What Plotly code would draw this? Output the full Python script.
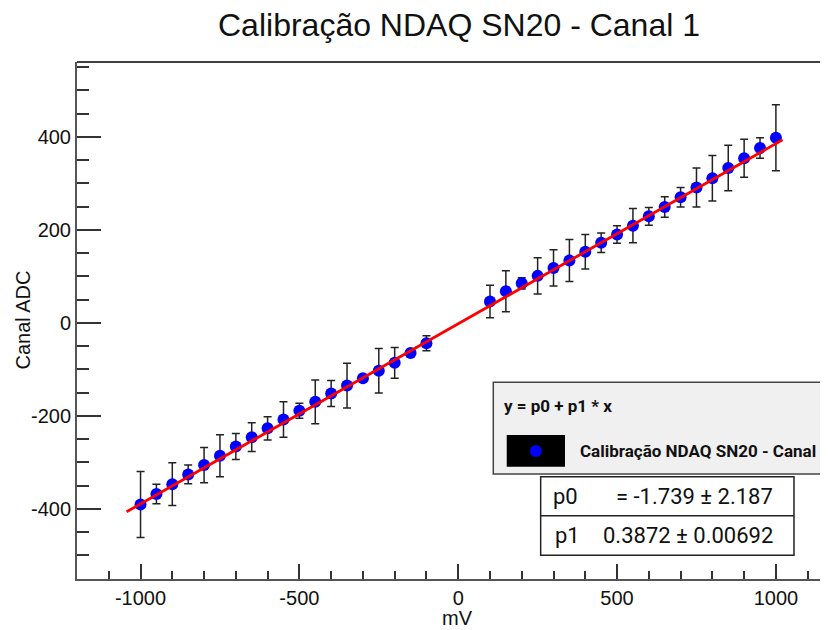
import plotly.graph_objects as go

# calibration points
mv = [-1000, -950, -900, -850, -800, -750, -700, -650, -600, -550,
      -500, -450, -400, -350, -300, -250, -200, -150, -100,
      100, 150, 200, 250, 300, 350, 400, 450, 500, 550,
      600, 650, 700, 750, 800, 850, 900, 950, 1000]
adc = [-391, -368, -347, -326, -306, -286, -266, -246, -227, -208,
       -189, -170, -152, -135, -119, -103, -86, -65, -44,
       46, 68, 85, 101, 118, 134, 153, 172, 190, 209,
       229, 249, 270, 291, 311, 333, 354, 376, 398]
adc_err = [71, 21, 46, 20, 38, 45, 28, 31, 25, 38,
           16, 47, 28, 48, 4, 48, 33, 4, 16,
           35, 44, 12, 39, 39, 45, 37, 21, 19, 37,
           19, 22, 21, 42, 49, 49, 41, 22, 71]

# fitted line end points
fit_x = [-1044, 1021]
fit_y = [-406.5, 393.6]

x_ticks = [-1000, -500, 0, 500, 1000]
x_labels = ["-1000", "-500", "0", "500", "1000"]
y_ticks = [-400, -200, 0, 200, 400]
y_labels = ["-400", "-200", "0", "200", "400"]

title = "Calibração NDAQ SN20 - Canal 1"
p0_text = "= -1.739 ± 2.187"
p1_text = "0.3872 ± 0.00692"

fig = go.Figure()

fig.add_trace(
    go.Scatter(
        x=mv,
        y=adc,
        mode="markers",
        marker=dict(color="#0000ff", size=12),
        error_y=dict(type="data", array=adc_err, color="#222222",
                     thickness=1.5, width=4),
        showlegend=False,
    )
)

fig.add_trace(
    go.Scatter(
        x=fit_x,
        y=fit_y,
        mode="lines",
        line=dict(color="#ff0000", width=2.8),
        showlegend=False,
    )
)

axis_font = dict(family="Liberation Sans", size=20, color="#111111")

fig.update_xaxes(
    range=[-1200, 1164],
    tickvals=x_ticks,
    ticktext=x_labels,
    ticks="inside",
    ticklen=15,
    tickwidth=1.5,
    tickcolor="#333333",
    tickfont=axis_font,
    showline=True,
    linecolor="#555555",
    linewidth=2,
    showgrid=False,
    zeroline=False,
    minor=dict(ticks="inside", ticklen=8, tickwidth=1.5, tickcolor="#333333",
               dtick=100, tick0=0, showgrid=False),
)

fig.update_yaxes(
    range=[-551, 561],
    tickvals=y_ticks,
    ticktext=y_labels,
    ticks="inside",
    ticklen=24,
    tickwidth=1.5,
    tickcolor="#333333",
    tickfont=axis_font,
    showline=True,
    linecolor="#555555",
    linewidth=2,
    showgrid=False,
    zeroline=False,
    minor=dict(ticks="inside", ticklen=12, tickwidth=1.5, tickcolor="#333333",
               dtick=50, tick0=0, showgrid=False),
)

shapes = [
    # top frame line
    dict(type="line", xref="paper", yref="paper", x0=0, x1=1, y0=1, y1=1,
         line=dict(color="#000000", width=1.5)),
    # legend box
    dict(type="rect", xref="paper", yref="paper", x0=0.5543, x1=1.05,
         y0=0.2031, y1=0.3805, fillcolor="#f0f0f0",
         line=dict(color="#444444", width=1.5)),
    dict(type="rect", xref="paper", yref="paper", x0=0.5722, x1=0.6498,
         y0=0.2172, y1=0.2785, fillcolor="#000000", line=dict(width=0)),
    dict(type="circle", xref="paper", yref="paper",
         xsizemode="pixel", ysizemode="pixel",
         xanchor=0.6109, yanchor=0.2476, x0=-6, x1=6, y0=-6, y1=6,
         fillcolor="#0000ff", line=dict(width=0)),
    # stats box
    dict(type="rect", xref="paper", yref="paper", x0=0.6174, x1=0.9547,
         y0=0.0458, y1=0.1979, fillcolor="#ffffff",
         line=dict(color="#222222", width=1.5)),
    dict(type="line", xref="paper", yref="paper", x0=0.6174, x1=0.9547,
         y0=0.1224, y1=0.1224, line=dict(color="#222222", width=1.5)),
]

legend_font = dict(family="Roboto", size=17, color="#111111")
stats_font = dict(family="Roboto", size=22, color="#111111")

annotations = [
    dict(text="<b>y = p0 + p1 * x</b>", xref="paper", yref="paper",
         x=0.5659, y=0.3346, xanchor="left", yanchor="middle",
         showarrow=False, font=legend_font),
    dict(text="<b>" + title + "</b>", xref="paper", yref="paper",
         x=0.6667, y=0.2476, xanchor="left", yanchor="middle",
         showarrow=False, font=legend_font),
    dict(text="p0", xref="paper", yref="paper", x=0.6307, y=0.1602,
         xanchor="left", yanchor="middle", showarrow=False, font=stats_font),
    dict(text=p0_text, xref="paper", yref="paper", x=0.9294, y=0.1602,
         xanchor="right", yanchor="middle", showarrow=False, font=stats_font),
    dict(text="p1", xref="paper", yref="paper", x=0.6334, y=0.0841,
         xanchor="left", yanchor="middle", showarrow=False, font=stats_font),
    dict(text=p1_text, xref="paper", yref="paper", x=0.9294, y=0.0841,
         xanchor="right", yanchor="middle", showarrow=False, font=stats_font),
    # axis titles
    dict(text="Canal ADC", xref="paper", yref="paper", x=-0.0732, y=0.5,
         xanchor="center", yanchor="middle", textangle=-90,
         showarrow=False, font=axis_font),
    dict(text="mV", xref="paper", yref="paper", x=0.5073, y=-0.0745,
         xanchor="center", yanchor="middle", showarrow=False, font=axis_font),
]

# page has an 8px body margin, so the figure is 820x622 inside the window
fig.update_layout(
    template="none",
    width=820,
    height=622,
    margin=dict(l=69, r=0, t=54, b=51),
    paper_bgcolor="#ffffff",
    plot_bgcolor="#ffffff",
    title=dict(text=title, xref="container", x=0.55, y=0.9727,
               xanchor="center", yanchor="middle",
               font=dict(family="Liberation Sans", size=32, color="#111111")),
    shapes=shapes,
    annotations=annotations,
    showlegend=False,
)

fig.write_html("out.html")
